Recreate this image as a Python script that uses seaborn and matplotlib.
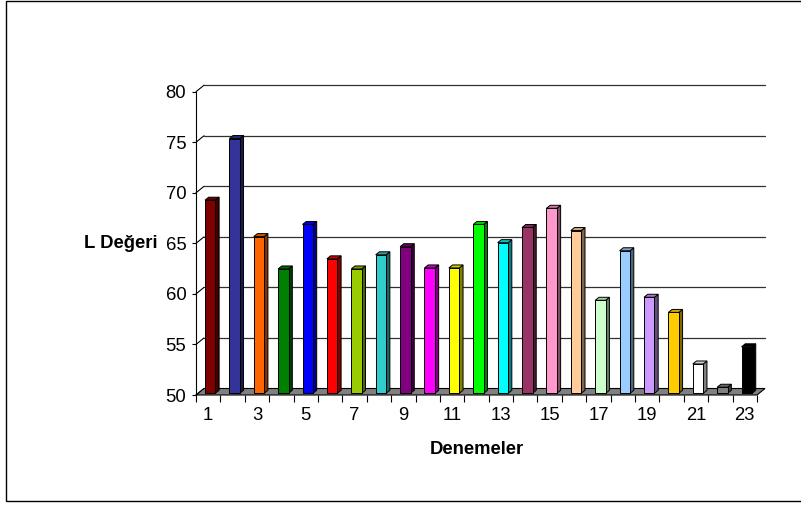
import numpy as np
import pandas as pd
import matplotlib
matplotlib.use("Agg")
import matplotlib.pyplot as plt
from matplotlib.patches import Polygon, Rectangle
from matplotlib.lines import Line2D
import matplotlib.colors as mcolors
import seaborn as sns

# Trial numbers and measured L values
trials = [str(i) for i in range(1, 24)]
l_values = [69.1, 75.2, 65.5, 62.3, 66.7, 63.3, 62.3, 63.7, 64.5, 62.4, 62.4, 66.7,
            64.9, 66.4, 68.3, 66.1, 59.2, 64.1, 59.5, 58.0, 52.9, 50.6, 54.6]
bar_colors = ["#800000", "#333399", "#FF6600", "#008000", "#0000FF", "#FF0000",
              "#99CC00", "#33CCCC", "#800080", "#FF00FF", "#FFFF00", "#00FF00",
              "#00FFFF", "#993366", "#FF99CC", "#FFCC99", "#CCFFCC", "#99CCFF",
              "#CC99FF", "#FFCC00", "#FFFFFF", "#808080", "#000000"]
y_ticks = [50, 55, 60, 65, 70, 75, 80]
x_tick_labels = trials[::2]

df = pd.DataFrame({"Deneme": trials, "L": l_values})

sns.set_theme(style="white")
plt.rcParams["font.family"] = ["Liberation Sans", "DejaVu Sans"]

W, H = 801, 505
fig = plt.figure(figsize=(W / 100, H / 100), dpi=100)
fig.patch.set_facecolor("white")

# axes: x from 196 px to 757 px, y from 395 px (50) to 91.7 px (80)
left, right, ybot, ytop = 196, 757, 395, 91.7
ax = fig.add_axes([left / W, (H - ybot) / H, (right - left) / W, (ybot - ytop) / H])
ax.set_facecolor("none")

FLOOR, TOP = 50, 80
# depth offsets (category units, value units)
px_x = (right - left) / 23.0
px_y = (ybot - ytop) / 30.0
wall_dx, wall_dy = 8 / px_x, 6.5 / px_y      # back wall
bar_dx, bar_dy = 2 / px_x, 1.7 / px_y        # bar front plane
side_dx, side_dy = 3.7 / px_x, 3.0 / px_y    # bar depth

sns.barplot(data=df, x="Deneme", y="L", hue="Deneme", palette=bar_colors,
            order=trials, hue_order=trials, width=0.43, legend=False,
            edgecolor="black", linewidth=0.7, saturation=1, ax=ax, zorder=3)

ax.set_xlim(-0.5, 22.5)
ax.set_ylim(FLOOR, TOP)

# floor
floor = Polygon([(-0.5, FLOOR), (22.5, FLOOR), (22.5 + wall_dx, FLOOR + wall_dy),
                 (-0.5 + wall_dx, FLOOR + wall_dy)], closed=True,
                facecolor="#808080", edgecolor="black", linewidth=0.8,
                clip_on=False, zorder=1)
ax.add_patch(floor)

# back wall gridlines and the diagonal joins to the value axis
for v in y_ticks[1:]:
    ax.add_line(Line2D([-0.5 + wall_dx, 22.5 + wall_dx], [v + wall_dy, v + wall_dy],
                       color="#303030", linewidth=0.9, clip_on=False, zorder=0.5))
for v in y_ticks:
    ax.add_line(Line2D([-0.5, -0.5 + wall_dx], [v, v + wall_dy],
                       color="black", linewidth=0.8, clip_on=False, zorder=0.6))

# give each bar its side and top faces
for patch, col in zip(list(ax.patches)[:len(trials)], bar_colors):
    h = patch.get_height()
    x0 = patch.get_x() + bar_dx
    w = patch.get_width()
    y0 = FLOOR + bar_dy
    patch.set_x(x0)
    patch.set_y(y0)
    patch.set_height(h - FLOOR)
    patch.set_clip_on(False)
    y1 = y0 + h - FLOOR
    rgb = np.array(mcolors.to_rgb(col))
    side_col = rgb * 0.5
    top_col = rgb * 0.8
    side = Polygon([(x0 + w, y0), (x0 + w + side_dx, y0 + side_dy),
                    (x0 + w + side_dx, y1 + side_dy), (x0 + w, y1)], closed=True,
                   facecolor=side_col, edgecolor="black", linewidth=0.7,
                   clip_on=False, zorder=2.9)
    top = Polygon([(x0, y1), (x0 + w, y1), (x0 + w + side_dx, y1 + side_dy),
                   (x0 + side_dx, y1 + side_dy)], closed=True,
                  facecolor=top_col, edgecolor="black", linewidth=0.7,
                  clip_on=False, zorder=2.9)
    ax.add_patch(side)
    ax.add_patch(top)

# axes styling
for s in ["top", "right", "bottom"]:
    ax.spines[s].set_visible(False)
ax.spines["left"].set_color("black")
ax.spines["left"].set_linewidth(0.8)

ax.set_yticks(y_ticks)
ax.set_yticklabels([str(v) for v in y_ticks], fontsize=13.3)
ax.tick_params(axis="y", left=True, length=3, width=0.8, color="black", pad=4,
               labelcolor="black")

ax.set_xticks(range(0, 23, 2))
ax.set_xticklabels(x_tick_labels, fontsize=13.3)
ax.set_xticks(np.arange(-0.5, 23, 1), minor=True)
ax.tick_params(axis="x", which="major", bottom=False, length=0, pad=9, labelcolor="black")
ax.tick_params(axis="x", which="minor", bottom=True, length=5, width=0.8, color="black")

ax.set_ylabel("L Değeri", rotation=0, fontsize=13.3, fontweight="bold",
              ha="right", va="center", color="black")
ax.yaxis.set_label_coords((157 - left) / (right - left), 0.5)
ax.set_xlabel("Denemeler", fontsize=13.3, fontweight="bold", va="center", color="black")
ax.xaxis.set_label_coords((477 - left) / (right - left), (ybot - 450) / (ybot - ytop))

# chart area border
fig.add_artist(Rectangle((5.5 / W, (H - 501) / H), 1.0, (501 - 0.5) / H,
                         transform=fig.transFigure, fill=False, edgecolor="black",
                         linewidth=1.0, clip_on=False))

fig.savefig("out.png", dpi=100, facecolor="white")
